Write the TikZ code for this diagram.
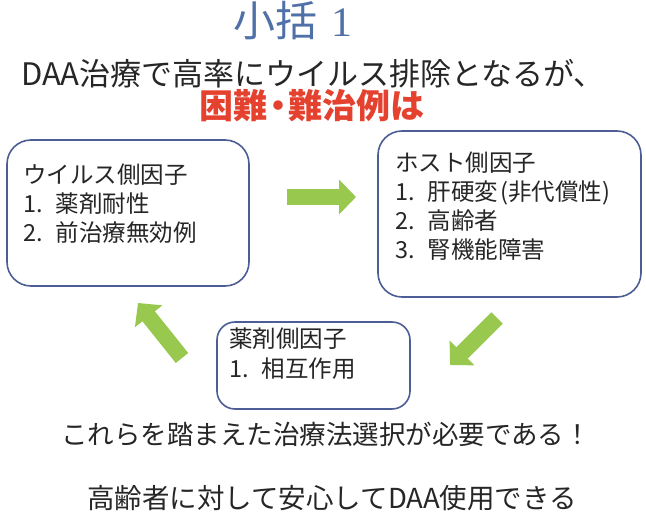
\documentclass[tikz,border=0pt]{standalone}
\usepackage{fontspec}
\setmainfont{Noto Sans CJK JP}
\newfontfamily\serifone{Liberation Serif}
\usetikzlibrary{arrows.meta}
\definecolor{boxline}{HTML}{4D5E96}
\definecolor{arrowgreen}{HTML}{98C84E}
\definecolor{txtcol}{HTML}{262626}
\definecolor{redtxt}{HTML}{E5412F}
\definecolor{titleblue}{HTML}{5070A8}
\newcommand{\itemgap}{\hspace{0.55em}}
\tikzset{
  factorbox/.style={draw=boxline, line width=1.6pt, rounded corners=24pt, fill=white, inner sep=0pt},
  boxtext/.style={anchor=north west, inner sep=0pt, align=left, text=txtcol, font=\fontsize{23.5}{29}\selectfont},
  greenarrow/.style={draw=arrowgreen, line width=16pt, -{Triangle[length=17pt 0 0, width=34pt 0 0]}, fill=arrowgreen},
  headtext/.style={inner sep=0pt, text=txtcol}
}
\begin{document}
\begin{tikzpicture}[x=1pt,y=-1pt]
\useasboundingbox[fill=white] (0,0) rectangle (646,518);
% headings
\node[inner sep=0pt, text=titleblue, font=\fontsize{42}{44}\selectfont] (title) at (293,21) {小括\hspace{0.35em}{\serifone 1}};
\node[headtext, font=\fontsize{31}{33}\selectfont] (lead) at (313,74) {DAA治療で高率にウイルス排除となるが、};
\node[inner sep=0pt, text=redtxt, font=\fontsize{34}{36}\selectfont\bfseries] (hard) at (312,106) {困難\hspace{-0.2em}・\hspace{-0.2em}難治例は};
% boxes
\node[factorbox, minimum width=242pt, minimum height=146pt] (virus) at (128,213) {};
\node[factorbox, minimum width=263pt, minimum height=166pt] (host) at (509.5,214) {};
\node[factorbox, rounded corners=18pt, minimum width=193pt, minimum height=87pt] (drug) at (313.5,365.5) {};
\node[boxtext] (virustxt) at (23,164) {ウイルス側因子\\1.\itemgap 薬剤耐性\\2.\itemgap 前治療無効例};
\node[boxtext] (hosttxt) at (395,152) {ホスト側因子\\1.\itemgap 肝硬変\hspace{0.1em}(非代償性)\\2.\itemgap 高齢者\\3.\itemgap 腎機能障害};
\node[boxtext, font=\fontsize{23.5}{30}\selectfont] (drugtxt) at (229,328) {薬剤側因子\\1.\itemgap 相互作用};
% arrows
\coordinate (r1) at (287,197);
\coordinate (r2) at (356,197);
\coordinate (d1) at (497,318);
\coordinate (d2) at (450,365);
\coordinate (u1) at (182,358);
\coordinate (u2) at (138,303);
\draw[greenarrow] (r1) -- (r2);
\draw[greenarrow] (d1) -- (d2);
\draw[greenarrow] (u1) -- (u2);
% bottom texts
\node[headtext, font=\fontsize{26.5}{28}\selectfont] (need) at (326,434) {これらを踏まえた治療法選択が必要である！};
\node[headtext, font=\fontsize{27.5}{29}\selectfont] (safe) at (332,498) {高齢者に対して安心してDAA使用できる};
\end{tikzpicture}
\end{document}
